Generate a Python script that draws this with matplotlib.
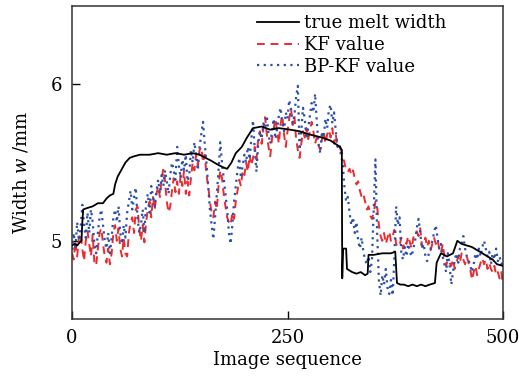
import matplotlib
matplotlib.use("Agg")
import matplotlib.pyplot as plt
import numpy as np

plt.rcParams['font.family'] = ['DejaVu Serif']
plt.rcParams['mathtext.fontset'] = 'custom'
plt.rcParams['mathtext.rm'] = 'DejaVu Serif'
plt.rcParams['mathtext.it'] = 'DejaVu Serif:italic'

# ---- data ----
true_x = [0, 3, 6, 9, 11, 12, 13, 18, 24, 30, 36, 40, 44, 48, 50, 53, 58, 62, 67, 72,
          79, 90, 100, 110, 120, 130, 140, 148, 155, 162, 168, 175, 180, 185, 190, 197,
          203, 210, 220, 230, 240, 253, 264, 275, 290, 300, 311, 313, 313.5, 314.5, 318,
          319, 325, 330, 335, 340, 343, 344, 350, 360, 370, 375, 377, 381, 385, 390, 395,
          400, 405, 410, 415, 421, 423, 428, 435, 442, 447, 452, 458, 464, 470, 476, 482,
          488, 493, 500]
true_w = [4.97, 4.98, 4.97, 4.99, 5.00, 5.12, 5.20, 5.21, 5.22, 5.24, 5.24, 5.27, 5.29, 5.30,
          5.36, 5.41, 5.46, 5.50, 5.53, 5.54, 5.55, 5.55, 5.56, 5.55, 5.56, 5.55, 5.56, 5.55,
          5.53, 5.51, 5.49, 5.47, 5.46, 5.50, 5.56, 5.60, 5.66, 5.72, 5.73, 5.71, 5.72, 5.71,
          5.70, 5.68, 5.66, 5.64, 5.60, 5.58, 4.76, 4.95, 4.95, 4.82, 4.80, 4.79, 4.80, 4.78,
          4.79, 4.91, 4.91, 4.92, 4.92, 4.93, 4.73, 4.72, 4.72, 4.71, 4.72, 4.71, 4.72, 4.71,
          4.72, 4.73, 4.86, 4.92, 4.90, 4.92, 5.00, 4.98, 4.97, 4.96, 4.94, 4.92, 4.90, 4.88,
          4.85, 4.84]

seq_x = list(range(0, 501, 2))

kf_w = [4.92, 4.88, 5.00, 4.90, 5.02, 5.05, 4.95, 4.87, 5.00, 5.06,
        4.98, 4.90, 5.04, 4.86, 4.84, 4.95, 5.05, 5.08, 4.98, 4.90,
        4.86, 4.95, 4.85, 4.92, 5.05, 5.10, 5.00, 5.08, 4.95, 4.90,
        5.02, 4.92, 4.90, 5.05, 5.12, 5.15, 5.05, 5.20, 5.22, 5.08,
        5.00, 5.10, 4.99, 5.12, 5.20, 5.25, 5.15, 5.28, 5.20, 5.30,
        5.35, 5.28, 5.40, 5.46, 5.38, 5.25, 5.18, 5.22, 5.32, 5.40,
        5.31, 5.38, 5.30, 5.42, 5.35, 5.45, 5.30, 5.38, 5.29, 5.40,
        5.50, 5.45, 5.55, 5.48, 5.58, 5.60, 5.50, 5.55, 5.42, 5.35,
        5.25, 5.18, 5.15, 5.25, 5.20, 5.35, 5.45, 5.40, 5.30, 5.22,
        5.15, 5.12, 5.10, 5.18, 5.14, 5.25, 5.32, 5.39, 5.35, 5.45,
        5.42, 5.50, 5.44, 5.55, 5.48, 5.53, 5.60, 5.52, 5.65, 5.70,
        5.62, 5.72, 5.79, 5.68, 5.60, 5.54, 5.65, 5.72, 5.78, 5.70,
        5.62, 5.75, 5.80, 5.68, 5.60, 5.70, 5.78, 5.85, 5.74, 5.80,
        5.65, 5.58, 5.53, 5.62, 5.70, 5.66, 5.72, 5.65, 5.70, 5.76,
        5.70, 5.62, 5.66, 5.61, 5.58, 5.65, 5.70, 5.62, 5.68, 5.71,
        5.66, 5.72, 5.62, 5.68, 5.60, 5.60, 5.58, 5.55, 5.50, 5.45,
        5.44, 5.46, 5.42, 5.45, 5.40, 5.36, 5.38, 5.32, 5.28, 5.30,
        5.25, 5.20, 5.22, 5.16, 5.14, 5.18, 5.25, 5.22, 5.10, 5.03,
        5.00, 5.05, 4.98, 5.02, 5.06, 5.00, 5.03, 5.07, 4.98, 4.96,
        4.97, 5.02, 4.95, 5.00, 4.98, 5.03, 4.99, 4.95, 5.02, 5.06,
        5.06, 5.03, 5.08, 4.96, 4.98, 5.02, 4.96, 5.00, 4.94, 4.98,
        5.02, 4.98, 5.01, 4.95, 4.92, 4.98, 4.90, 4.84, 4.88, 4.86,
        4.84, 4.88, 4.82, 4.86, 4.90, 4.86, 4.92, 4.88, 4.85, 4.90,
        4.86, 4.82, 4.75, 4.80, 4.84, 4.78, 4.82, 4.86, 4.89, 4.85,
        4.88, 4.82, 4.86, 4.82, 4.80, 4.84, 4.78, 4.80, 4.76, 4.80,
        4.72]

bpkf_w = [4.90, 5.05, 4.95, 5.12, 5.00, 5.08, 5.23, 5.10, 5.02, 5.18,
          5.05, 5.20, 5.12, 4.98, 4.92, 5.05, 5.15, 5.20, 5.10, 5.00,
          4.95, 5.05, 4.92, 5.02, 5.15, 5.20, 5.12, 5.22, 5.05, 4.98,
          5.10, 5.02, 5.18, 5.25, 5.32, 5.20, 5.28, 5.34, 5.15, 5.05,
          5.10, 5.20, 5.05, 5.25, 5.30, 5.18, 5.35, 5.28, 5.22, 5.32,
          5.39, 5.30, 5.42, 5.35, 5.45, 5.38, 5.30, 5.42, 5.50, 5.45,
          5.39, 5.60, 5.48, 5.40, 5.52, 5.45, 5.55, 5.38, 5.42, 5.58,
          5.50, 5.63, 5.55, 5.45, 5.60, 5.68, 5.76, 5.62, 5.50, 5.35,
          5.20, 5.10, 5.01, 5.15, 5.30, 5.45, 5.63, 5.50, 5.40, 5.30,
          5.20, 5.05, 4.98, 5.10, 5.25, 5.35, 5.45, 5.53, 5.40, 5.48,
          5.55, 5.50, 5.60, 5.52, 5.65, 5.77, 5.58, 5.44, 5.62, 5.70,
          5.65, 5.75, 5.72, 5.80, 5.68, 5.62, 5.70, 5.78, 5.65, 5.72,
          5.80, 5.85, 5.75, 5.70, 5.82, 5.78, 5.90, 5.84, 5.75, 5.80,
          5.92, 5.99, 5.58, 5.70, 5.85, 5.78, 5.65, 5.72, 5.80, 5.88,
          5.82, 5.94, 5.76, 5.62, 5.56, 5.70, 5.66, 5.78, 5.72, 5.84,
          5.87, 5.75, 5.82, 5.70, 5.60, 5.62, 5.55, 5.50, 5.35, 5.25,
          5.28, 5.18, 5.10, 5.15, 5.05, 5.12, 5.00, 4.95, 5.02, 4.93,
          4.88, 4.85, 4.90, 4.80, 4.88, 5.20, 5.52, 5.05, 4.75, 4.65,
          4.78, 4.72, 4.82, 4.70, 4.66, 4.75, 4.65, 4.90, 5.22, 5.10,
          5.15, 4.92, 4.88, 4.96, 4.90, 4.98, 4.93, 4.90, 4.95, 5.00,
          5.08, 5.14, 5.05, 4.95, 4.98, 4.90, 4.87, 4.92, 4.95, 5.00,
          5.05, 5.10, 5.02, 4.95, 4.98, 4.90, 4.85, 4.80, 4.92, 4.85,
          4.72, 4.80, 4.88, 4.92, 4.86, 4.95, 4.98, 5.03, 4.95, 4.90,
          4.88, 4.84, 4.80, 4.85, 4.92, 4.88, 4.95, 4.90, 4.96, 5.00,
          4.95, 4.90, 4.93, 4.85, 4.92, 4.88, 4.95, 4.87, 4.90, 4.85,
          4.87]

x_ticks = [0, 250, 500]
y_ticks = [5, 6]

# ---- figure ----
fig = plt.figure(figsize=(5.19, 3.78), dpi=100)
ax = fig.add_axes([0.1387, 0.156, 0.8305, 0.828])

ax.plot(true_x, true_w, color='black', lw=1.3, label='true melt width', zorder=3)
ax.plot(seq_x, kf_w, color='#ee2a2f', lw=1.4, ls=(0, (4, 3)), label='KF value', zorder=2)
ax.plot(seq_x, bpkf_w, color='#2b50a8', lw=1.6, ls=(0, (1, 2)), label='BP-KF value', zorder=2)

ax.set_xlim(0, 500)
ax.set_ylim(4.5, 6.5)
ax.set_xticks(x_ticks)
ax.set_yticks(y_ticks)
ax.tick_params(direction='in', length=6, width=1, labelsize=13, pad=7)
for s in ax.spines.values():
    s.set_linewidth(1.1)
    s.set_color('#333333')

ax.set_xlabel('Image sequence', fontsize=13, labelpad=3)
ax.set_ylabel('Width $\\mathit{w}$ /mm', fontsize=13)
ax.yaxis.set_label_coords(-0.097, 0.47)

leg = ax.legend(loc='upper left', frameon=False, fontsize=13, handlelength=2.3,
                handletextpad=0.3, labelspacing=0.22, borderaxespad=0.0, borderpad=0.0,
                bbox_to_anchor=(0.43, 0.975))

fig.savefig('out.png', dpi=100)
